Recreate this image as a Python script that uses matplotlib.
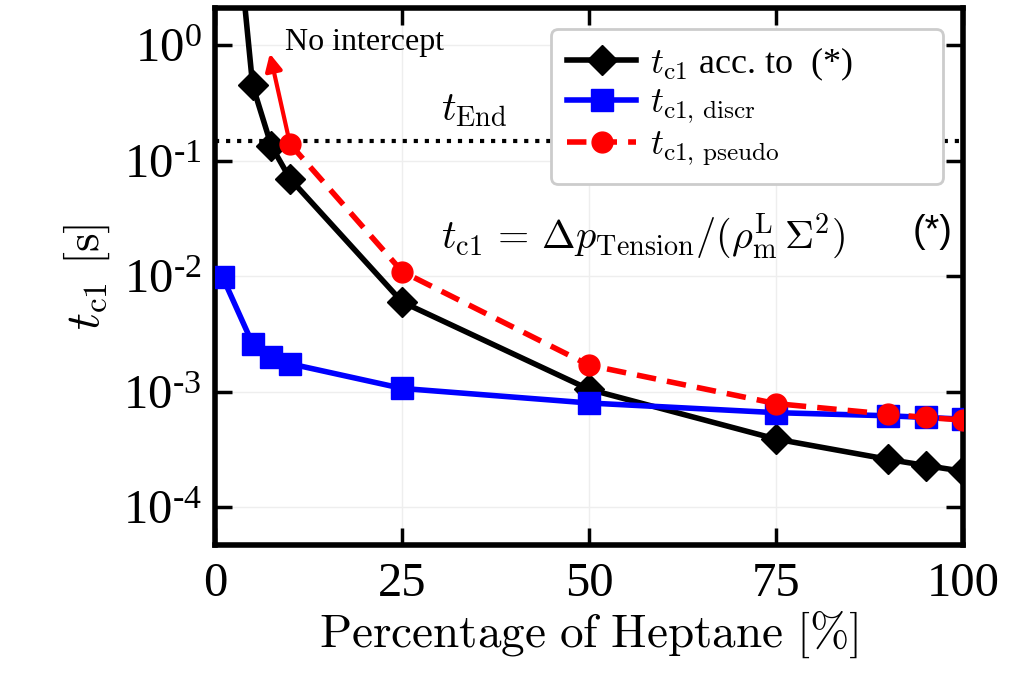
import matplotlib
matplotlib.use('Agg')
import matplotlib.pyplot as plt
from matplotlib.ticker import FixedLocator, FixedFormatter, NullLocator

plt.rcParams['font.family'] = 'Liberation Serif'
plt.rcParams['mathtext.fontset'] = 'cm'

# percentage of heptane
x_acc = [1, 5, 7.5, 10, 25, 50, 75, 90, 95, 100]
t_acc = [200, 0.45, 0.135, 0.07, 0.006, 0.00105, 0.00039, 0.00026, 0.00023, 0.000205]

x_discr = [1, 5, 7.5, 10, 25, 50, 75, 90, 95, 100]
t_discr = [0.0098, 0.0026, 0.002, 0.00175, 0.00107, 0.0008, 0.00066, 0.00062, 0.0006, 0.00058]

x_pseudo = [10, 25, 50, 75, 90, 95, 100]
t_pseudo = [0.14, 0.011, 0.0017, 0.00079, 0.00064, 0.0006, 0.00057]

t_end = 0.15
yticks = [1e0, 1e-1, 1e-2, 1e-3, 1e-4]
ytick_labels = ['$\\mathregular{10^{0}}$', '$\\mathregular{10^{\u20101}}$', '$\\mathregular{10^{\u20102}}$',
                '$\\mathregular{10^{\u20103}}$', '$\\mathregular{10^{\u20104}}$']
xticks = [0, 25, 50, 75, 100]

fig = plt.figure(figsize=(10.25, 6.84), dpi=100)
ax = fig.add_axes([0.21, 0.203, 0.7295, 0.785])

ax.plot(x_acc, t_acc, color='black', lw=4, marker='D', ms=15,
        label='$t_{\\rm c1}$ acc. to  (*)' + '\u2002' * 5, zorder=3)
ax.plot(x_discr, t_discr, color='blue', lw=4, marker='s', ms=16,
        label=r'$t_{\rm c1,\, discr}$', zorder=4)
ax.plot(x_pseudo, t_pseudo, color='red', lw=4, ls='--', dashes=(3.5, 2), marker='o', ms=15,
        label=r'$t_{\rm c1,\, pseudo}$', zorder=5)
ax.axhline(t_end, color='black', lw=3, ls=':', zorder=2)

ax.annotate('', xy=(7.3, 0.85), xytext=(x_pseudo[0], t_pseudo[0]),
            arrowprops=dict(arrowstyle='-|>,head_width=0.5,head_length=1.0',
                            color='red', lw=3, shrinkA=0, shrinkB=0), zorder=6)
ax.text(9.3, 1.05, 'No intercept', fontsize=23, va='center')
ax.text(30.2, 0.19, r'$t_{\rm End}$', fontsize=29, va='bottom')
ax.text(30.2, 0.022, r'$t_{\rm c1}\, =\, \Delta p_{\rm Tension}/(\rho_{\rm m}^{\rm L}\,\Sigma^2)$',
        fontsize=29, va='center')
ax.text(93.2, 0.024, '(*)', fontsize=27, va='center', family='Liberation Sans')

ax.set_yscale('log')
ax.set_xlim(0, 100)
ax.set_ylim(4.7e-5, 2.1)
ax.yaxis.set_major_locator(FixedLocator(yticks))
ax.yaxis.set_major_formatter(FixedFormatter(ytick_labels))
ax.yaxis.set_minor_locator(NullLocator())
ax.set_xticks(xticks)
ax.tick_params(axis='both', which='major', direction='in', length=12, width=2.5,
               top=True, right=True, labelsize=35)
ax.tick_params(axis='x', pad=12)
ax.tick_params(axis='y', pad=10)
ax.grid(True, color='#eeeeee', lw=1)
for s in ax.spines.values():
    s.set_linewidth(4)

ax.set_xlabel(r'$\mathrm{Percentage\ of\ Heptane}\ [\%]$', fontsize=34, labelpad=2)
ax.set_ylabel(r'$t_{\rm c1}\ [\mathrm{s}]$', fontsize=34, labelpad=8)

leg = ax.legend(loc='upper right', bbox_to_anchor=(0.998, 0.995), fontsize=26, handlelength=1.9,
                handletextpad=0.4, labelspacing=0.12, borderpad=0.45, frameon=True, fancybox=True,
                framealpha=1)
leg.get_frame().set_edgecolor('#cccccc')
leg.get_frame().set_linewidth(2)

fig.savefig('out.png', dpi=100)
